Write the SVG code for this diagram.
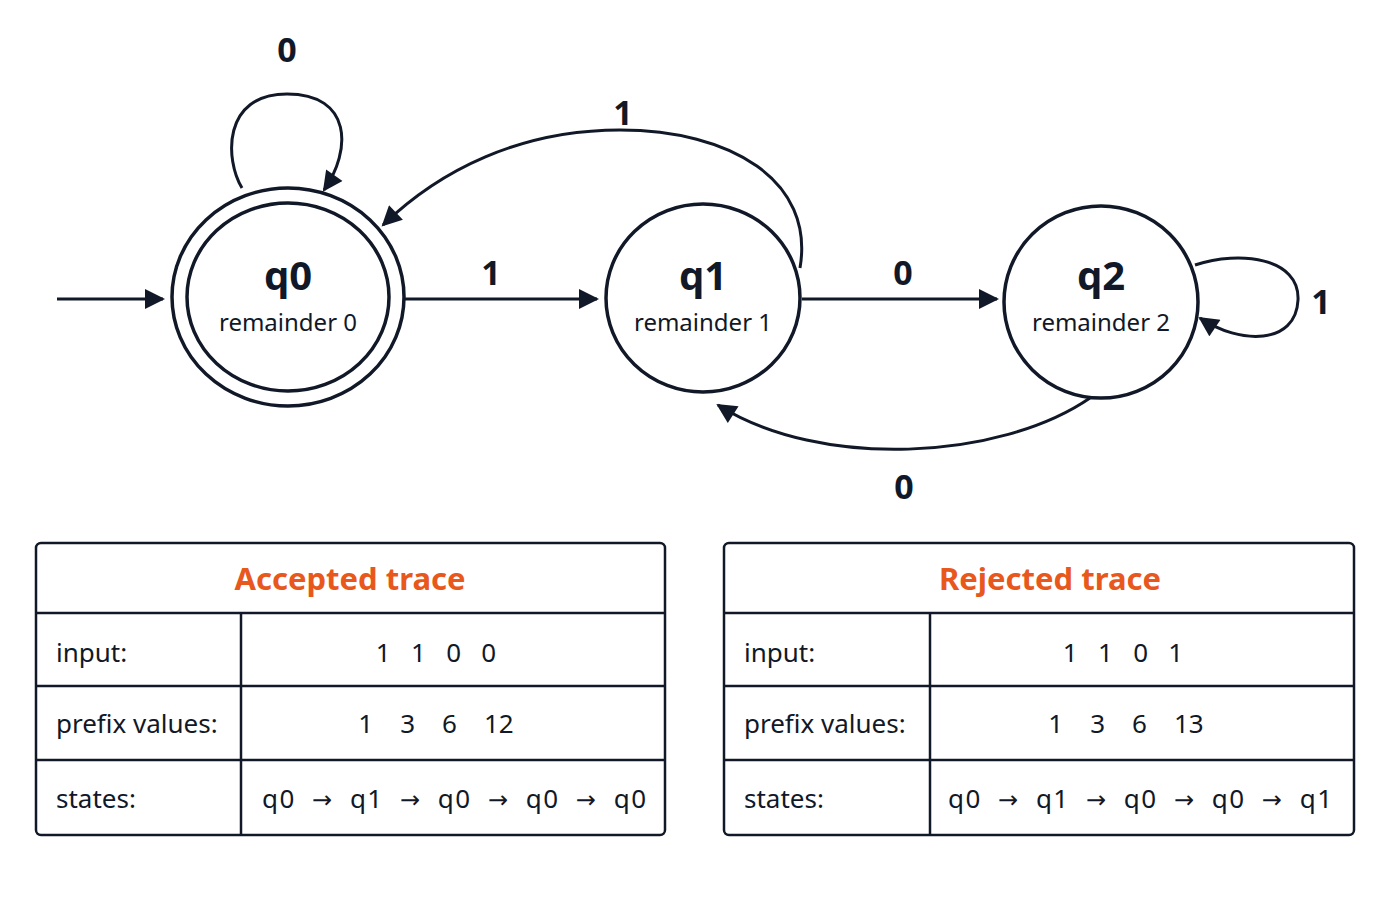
<svg xmlns="http://www.w3.org/2000/svg" width="1400" height="900" viewBox="0 0 1400 900">
<style>
.s{fill:none;stroke:#111827;stroke-width:3.5}
.e{fill:none;stroke:#111827;stroke-width:3}
.t{font-family:"Noto Sans","Open Sans",sans-serif;fill:#111827}
.lbl{font-size:34px;font-weight:bold;text-anchor:middle}
.nm{font-size:40px;font-weight:bold;text-anchor:middle}
.sub{font-size:24px;text-anchor:middle}
.ti{font-family:"Noto Sans",sans-serif;font-size:31px;font-weight:bold;fill:#E8581C;text-anchor:middle}
.cell{font-size:26px}
.ar{font-family:"DejaVu Sans",sans-serif;font-size:24px}
.tb{fill:#fff;stroke:#111827;stroke-width:2.5}
</style>
<defs>
<marker id="b" viewBox="0 0 10 10" refX="9" refY="5" markerWidth="22" markerHeight="20" markerUnits="userSpaceOnUse" orient="auto"><path d="M0,0L10,5L0,10z" fill="#111827"/></marker></defs>
<rect width="1400" height="900" fill="#fff"/>
<g id="connectors">
<path class="e" d="M57,299H163" marker-end="url(#b)"/>
<path class="e" d="M405,299H597" marker-end="url(#b)"/>
<path class="e" d="M802,299H997" marker-end="url(#b)"/>
<path class="e" d="M242,188C225,160 222,94 287,94C352,94 352,150 324,190" marker-end="url(#b)"/>
<path class="e" d="M800,268C815,180 730,130 620,130C520,130 440,170 383,225" marker-end="url(#b)"/>
<path class="e" d="M1195,265C1240,250 1300,258 1298,300C1296,345 1240,345 1200,318" marker-end="url(#b)"/>
<path class="e" d="M1090,398C1000,460 820,470 718,405" marker-end="url(#b)"/>
<text class="t lbl" x="287" y="62">0</text>
<text class="t lbl" x="623" y="125">1</text>
<text class="t lbl" x="491" y="285">1</text>
<text class="t lbl" x="903" y="285">0</text>
<text class="t lbl" x="1321" y="314">1</text>
<text class="t lbl" x="904" y="499">0</text>
</g>
<g id="q0"><ellipse class="s" cx="288" cy="297" rx="116" ry="109"/><ellipse class="s" cx="288" cy="297" rx="101" ry="94"/>
<text class="t nm" x="288" y="290">q0</text><text class="t sub" x="288" y="331">remainder 0</text></g>
<g id="q1"><ellipse class="s" cx="703" cy="298" rx="97" ry="94"/>
<text class="t nm" x="703" y="290">q1</text><text class="t sub" x="703" y="331">remainder 1</text></g>
<g id="q2"><ellipse class="s" cx="1101" cy="302" rx="97" ry="96"/>
<text class="t nm" x="1101" y="290">q2</text><text class="t sub" x="1101" y="331">remainder 2</text></g>
<g id="accepted">
<rect class="tb" x="36" y="543" width="629" height="292" rx="5"/>
<path class="tb" d="M36,613H665M36,686H665M36,760H665M241,613V835"/>
<text class="ti" x="350" y="590">Accepted trace</text>
<text class="t cell" x="56" y="662">input:</text>
<text class="t cell" x="56" y="733">prefix values:</text>
<text class="t cell" x="56" y="808">states:</text>
<text class="t cell" x="436" y="662" text-anchor="middle" xml:space="preserve">1   1   0   0</text>
<text class="t cell" x="436" y="733" text-anchor="middle" xml:space="preserve">1    3    6    12</text>
<text class="t cell" x="262" y="808" textLength="384" xml:space="preserve">q0  <tspan class="ar">→</tspan>  q1  <tspan class="ar">→</tspan>  q0  <tspan class="ar">→</tspan>  q0  <tspan class="ar">→</tspan>  q0</text>
</g>
<g id="rejected">
<rect class="tb" x="724" y="543" width="630" height="292" rx="5"/>
<path class="tb" d="M724,613H1354M724,686H1354M724,760H1354M930,613V835"/>
<text class="ti" x="1050" y="590">Rejected trace</text>
<text class="t cell" x="744" y="662">input:</text>
<text class="t cell" x="744" y="733">prefix values:</text>
<text class="t cell" x="744" y="808">states:</text>
<text class="t cell" x="1123" y="662" text-anchor="middle" xml:space="preserve">1   1   0   1</text>
<text class="t cell" x="1126" y="733" text-anchor="middle" xml:space="preserve">1    3    6    13</text>
<text class="t cell" x="948" y="808" textLength="384" xml:space="preserve">q0  <tspan class="ar">→</tspan>  q1  <tspan class="ar">→</tspan>  q0  <tspan class="ar">→</tspan>  q0  <tspan class="ar">→</tspan>  q1</text>
</g>
</svg>
